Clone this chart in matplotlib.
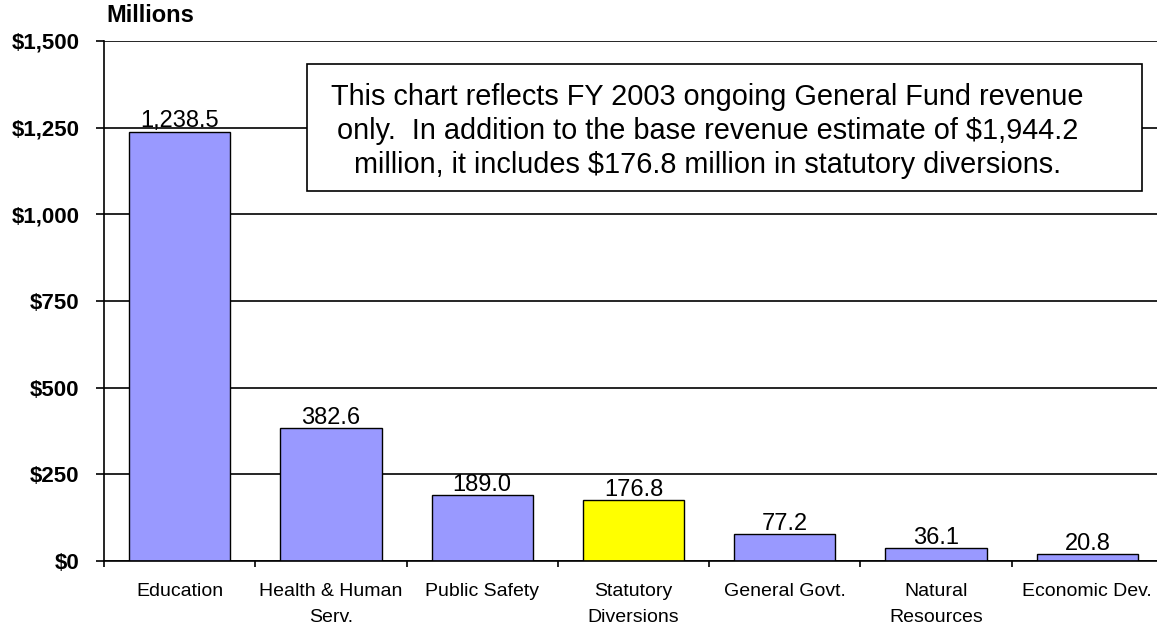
import matplotlib.pyplot as plt
from matplotlib.patches import Rectangle

plt.rcParams['font.family'] = ['Liberation Sans', 'DejaVu Sans']

categories = ['Education', 'Health & Human\nServ.', 'Public Safety', 'Statutory\nDiversions',
              'General Govt.', 'Natural\nResources', 'Economic Dev.']
values = [1238.5, 382.6, 189.0, 176.8, 77.2, 36.1, 20.8]
labels = ['1,238.5', '382.6', '189.0', '176.8', '77.2', '36.1', '20.8']
colors = ['#9999FF', '#9999FF', '#9999FF', '#FFFF00', '#9999FF', '#9999FF', '#9999FF']
yticks = [0, 250, 500, 750, 1000, 1250, 1500]
ytick_labels = ['$0', '$250', '$500', '$750', '$1,000', '$1,250', '$1,500']
note = ('This chart reflects FY 2003 ongoing General Fund revenue\n'
        'only.  In addition to the base revenue estimate of $1,944.2\n'
        'million, it includes $176.8 million in statutory diversions.')

W, H = 1157, 628
fig = plt.figure(figsize=(W / 100, H / 100), dpi=100)
ax = fig.add_axes([104 / W, 1 - 561 / H, (1163 - 104) / W, (561 - 41) / H])

x = range(len(categories))
ax.bar(x, values, width=0.67, color=colors, edgecolor='black', linewidth=1.0, zorder=3)
for i, v in enumerate(values):
    ax.annotate(labels[i], (i, v), xytext=(0, 3), textcoords='offset points',
                ha='center', va='baseline', fontsize=17, zorder=4)

ax.set_xlim(-0.5, 6.5)
ax.set_ylim(0, 1500)
ax.set_yticks(yticks)
ax.set_yticklabels(ytick_labels, fontsize=16, fontweight='bold')
ax.set_xticks(x)
ax.set_xticklabels(categories, fontsize=14, linespacing=1.7)
ax.set_xticks([i - 0.5 for i in range(len(categories) + 1)], minor=True)
ax.tick_params(axis='x', which='major', length=0, pad=16)
ax.tick_params(axis='x', which='minor', length=4.5, width=1.2, direction='out')
ax.tick_params(axis='y', length=5.8, width=1.2, pad=12)
ax.yaxis.grid(True, color='black', linewidth=1.2, zorder=0)
ax.set_axisbelow(True)
for s in ['top', 'right']:
    ax.spines[s].set_visible(False)
for s in ['left', 'bottom']:
    ax.spines[s].set_linewidth(1.2)
    ax.spines[s].set_zorder(5)

box = Rectangle((0.84, 1066), 6.36 - 0.84, 1433 - 1066, facecolor='white',
                edgecolor='black', linewidth=1.2, zorder=6)
ax.add_patch(box)
ax.text(3.49, 1240, note, ha='center', va='center', fontsize=20.8,
        linespacing=1.28, zorder=7)

fig.text(106 / W, 1 - 16 / H, 'Millions', fontsize=17, fontweight='bold',
         ha='left', va='center')

fig.savefig('out.png', dpi=100)
